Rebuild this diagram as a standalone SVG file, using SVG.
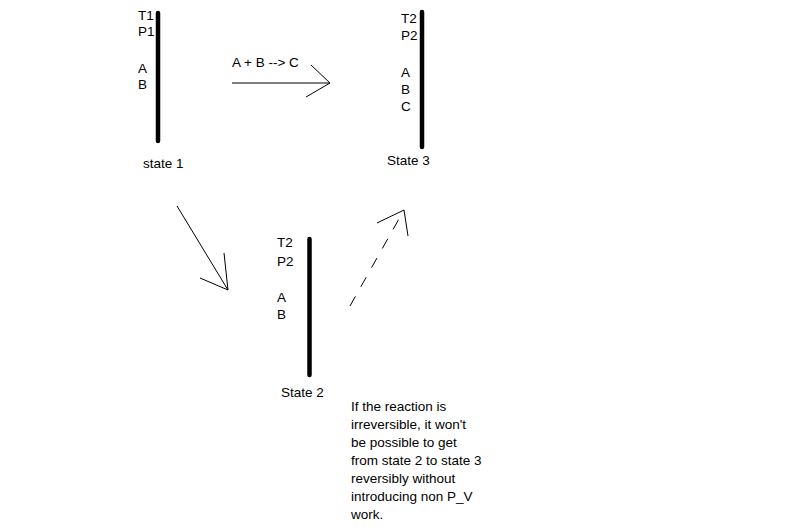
<svg xmlns="http://www.w3.org/2000/svg" width="795" height="530" viewBox="0 0 795 530">
<style>
text{font-family:"Liberation Sans",Arial,sans-serif;font-size:13.5px;fill:#000}
.bar{stroke:#000;stroke-width:4.5;stroke-linecap:round}
.ln{stroke:#000;stroke-width:1;fill:none}
.dash{stroke-dasharray:11 11}
</style>
<rect width="795" height="530" fill="#fff"/>
<g id="state1">
<line class="bar" x1="158" y1="13" x2="158" y2="141"/>
<text x="138" y="20">T1</text>
<text x="138" y="36">P1</text>
<text x="138" y="73">A</text>
<text x="138" y="89">B</text>
<text x="143" y="168">state 1</text>
</g>
<g id="state3">
<line class="bar" x1="422" y1="12" x2="422" y2="147"/>
<text x="401" y="23">T2</text>
<text x="401" y="40">P2</text>
<text x="401" y="77">A</text>
<text x="401" y="94">B</text>
<text x="401" y="111">C</text>
<text x="387" y="165">State 3</text>
</g>
<g id="state2">
<line class="bar" x1="309.5" y1="239" x2="309.5" y2="375"/>
<text x="277" y="247">T2</text>
<text x="277" y="266">P2</text>
<text x="277" y="302">A</text>
<text x="277" y="319">B</text>
<text x="281" y="397">State 2</text>
</g>
<g id="note">
<text x="351" y="411">If the reaction is</text>
<text x="351" y="429">irreversible, it won't</text>
<text x="351" y="447">be possible to get</text>
<text x="351" y="465">from state 2 to state 3</text>
<text x="351" y="483">reversibly without</text>
<text x="351" y="501">introducing non P_V</text>
<text x="351" y="519">work.</text>
</g>
<g id="connectors">
<g id="reaction">
<line class="ln" x1="232" y1="83" x2="330" y2="83"/>
<polyline class="ln" points="311,65 330,83 306,97"/>
<text x="232" y="67">A + B --&gt; C</text>
</g>
<g id="s1-s2">
<line class="ln" x1="177" y1="206" x2="228" y2="290"/>
<polyline class="ln" points="224,253 228,290 200,278"/>
</g>
<g id="s2-s3">
<line class="ln dash" x1="350" y1="306" x2="404" y2="210"/>
<polyline class="ln" points="377,223 404,210 408,236"/>
</g>
</g>
</svg>
